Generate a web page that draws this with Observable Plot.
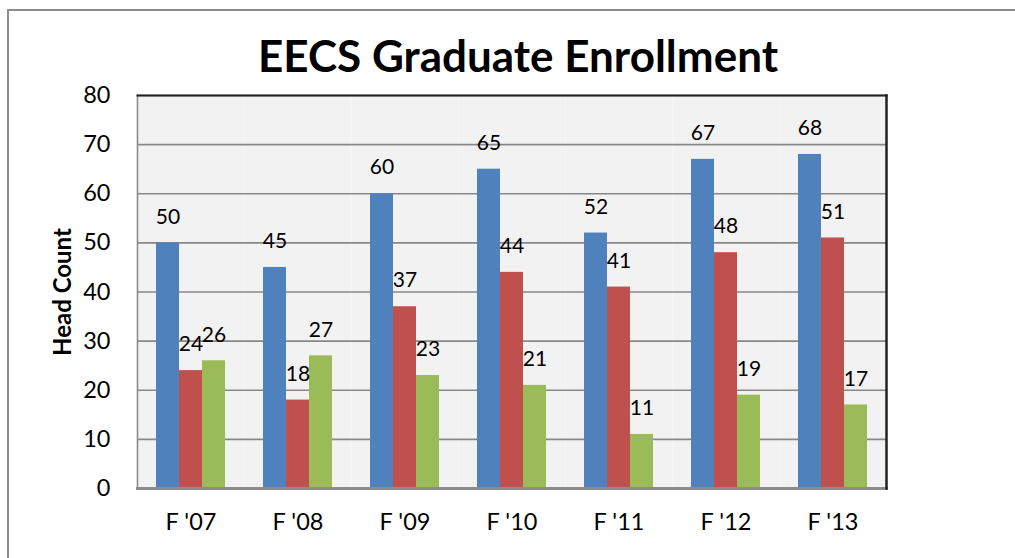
<!DOCTYPE html>
<html>
<head>
<meta charset="utf-8">
<script src="https://cdn.jsdelivr.net/npm/d3@7"></script>
<script src="https://cdn.jsdelivr.net/npm/@observablehq/plot@0.6"></script>
<style>
  html, body { margin: 0; padding: 0; background: #fff; }
  #wrap { position: relative; width: 1015px; height: 558px; overflow: hidden; }
  #box { position: absolute; left: 7px; top: 9px; width: 1100px; height: 700px;
         border-left: 2px solid #8c8c8c; border-top: 2px solid #8c8c8c; box-sizing: border-box; }
  #title { position: relative; height: 80px; padding-left: 21px; box-sizing: border-box; text-align: center;
           font-family: Lato, "Open Sans", sans-serif; font-weight: bold; font-size: 43px; color: #000; }
  #title span { display: inline-block; margin-top: 31px; line-height: 50px; transform-origin: 50% 50%; }
  #chart { position: relative; }
</style>
</head>
<body>
<div id="wrap">
  <div id="box"></div>
  <div id="title"><span>EECS Graduate Enrollment</span></div>
  <div id="chart"></div>
</div>
<script>
const categories = ["F '07", "F '08", "F '09", "F '10", "F '11", "F '12", "F '13"];
const seriesNames = ["Series 1", "Series 2", "Series 3"];
const series1 = [50, 45, 60, 65, 52, 67, 68];
const series2 = [24, 18, 37, 44, 41, 48, 51];
const series3 = [26, 27, 23, 21, 11, 19, 17];
const yTicks = [0, 10, 20, 30, 40, 50, 60, 70, 80];
const yLabel = "Head Count";
const colors = ["#4f81bd", "#c0504d", "#9bbb59"];

const allSeries = [series1, series2, series3];
const data = categories.flatMap((c, i) =>
  seriesNames.map((s, j) => ({category: c, series: s, value: allSeries[j][i]}))
);
const yDomain = [yTicks[0], yTicks[yTicks.length - 1]];

const chart = Plot.plot({
  width: 1015,
  height: 478,
  marginTop: 15,
  marginLeft: 137,
  marginRight: 129,
  marginBottom: 70,
  style: {fontFamily: "Lato, 'Open Sans', sans-serif", fontSize: "23px", color: "#000", background: "transparent", overflow: "visible"},
  fx: {domain: categories, padding: 0, label: null},
  x: {domain: seriesNames, axis: null, paddingInner: 0, paddingOuter: 0.76},
  y: {domain: yDomain, label: null},
  color: {domain: seriesNames, range: colors},
  marks: [
    Plot.frame({fill: "#f2f2f2"}),
    Plot.gridY(yTicks, {stroke: "#878787", strokeOpacity: 1, strokeWidth: 1.6}),
    Plot.barY(data, {fx: "category", x: "series", y: "value", fill: "series"}),
    Plot.text(data, {fx: "category", x: "series", y: "value", text: d => String(d.value), dy: -26, fontSize: 21, fill: "#000"}),
    Plot.frame({facet: "super", anchor: "left", stroke: "#8c8c8c", strokeWidth: 1.6}),
    Plot.frame({facet: "super", anchor: "bottom", stroke: "#8c8c8c", strokeWidth: 3}),
    Plot.frame({facet: "super", anchor: "top", stroke: "#222", strokeWidth: 2}),
    Plot.frame({facet: "super", anchor: "right", stroke: "#222", strokeWidth: 2.5}),
    Plot.axisY({ticks: yTicks, tickSize: 0, tickPadding: 27, label: null, fontSize: 23.5}),
    Plot.axisY({ticks: [], tickSize: 0, label: yLabel, labelAnchor: "center", labelArrow: "none", labelOffset: 84, fontWeight: "bold", fontSize: 24}),
    Plot.axisFx({anchor: "bottom", tickSize: 0, tickPadding: 25, label: null, fontSize: 23.5})
  ]
});
document.getElementById("chart").appendChild(chart);

function fitTitle() {
  const s = document.querySelector("#title span");
  s.style.transform = "none";
  const w = s.getBoundingClientRect().width;
  if (w > 0) s.style.transform = `scaleX(${520 / w})`;
}
fitTitle();
if (document.fonts && document.fonts.ready) document.fonts.ready.then(fitTitle);
</script>
</body>
</html>
